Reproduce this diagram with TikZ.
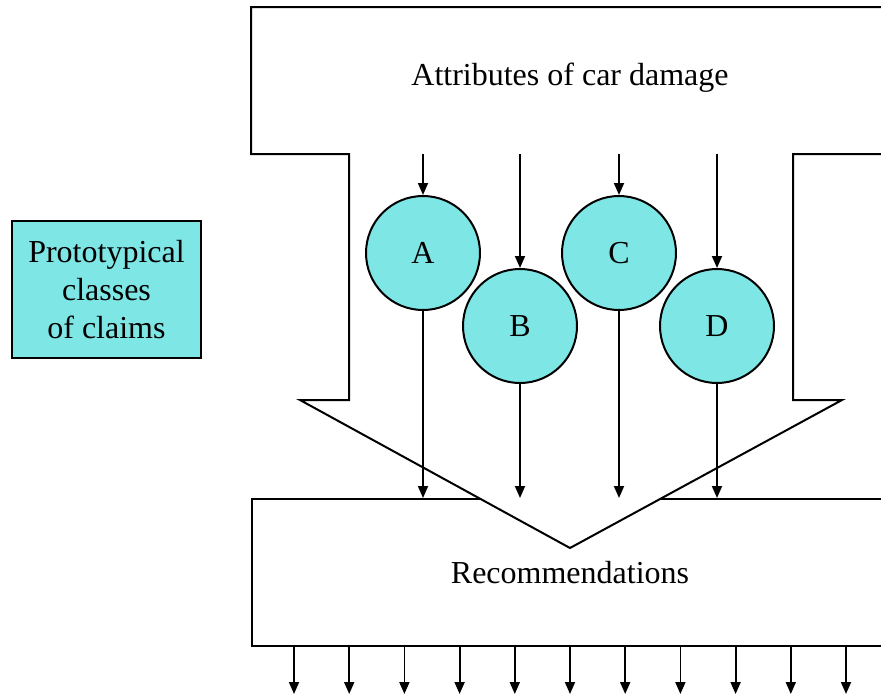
\documentclass[tikz,border=0pt]{standalone}
\usepackage{fontspec}
\setmainfont{Liberation Serif}
\usetikzlibrary{arrows.meta}
\definecolor{classcyan}{RGB}{127,230,230}
\begin{document}
\begin{tikzpicture}[x=1pt,y=-1pt,
  outline/.style={line width=2pt,line join=miter},
  arr/.style={line width=1.8pt,-{Triangle[length=12pt,width=10pt]}},
  classnode/.style={circle,draw,outline,fill=classcyan,minimum size=114pt,inner sep=0pt,
    font=\fontsize{32}{38}\selectfont},
  lbl/.style={font=\fontsize{32}{38}\selectfont}]
\useasboundingbox (0,0) rectangle (881,697);

% output box
\node[draw,outline,fill=white,anchor=north west,minimum width=660pt,minimum height=147pt,
  inner sep=0pt] (rec) at (251,498) {};
\node[lbl] (rectext) at (570,573) {Recommendations};

% input funnel
\draw[outline,fill=white] (251,7) -- (910,7) -- (910,154) -- (793,154) -- (793,400)
  -- (842,400) -- (570,548) -- (300,400) -- (349,400) -- (349,154) -- (251,154) -- cycle;
\node[lbl] (attr) at (570,78) {Attributes of car damage};

% prototype classes
\node[classnode] (A) at (423,253) {A};
\node[classnode] (B) at (520,326) {B};
\node[classnode] (C) at (619,253) {C};
\node[classnode] (D) at (717,326) {D};

\foreach \n/\x in {A/423,B/520,C/619,D/717}{
  \coordinate (\n-in) at (\x,154);
  \draw[arr] (\n-in) -- (\n);
  \draw[arr] (\n) -- (\n |- rec.north);
}

% outputs
\foreach \i in {0,...,10}{
  \coordinate (out\i) at (294+55.2*\i,694);
  \draw[arr] (out\i |- rec.south) -- (out\i);
}

% legend box
\node[draw,outline,fill=classcyan,minimum width=189pt,minimum height=137pt,align=center,
  inner sep=0pt,font=\fontsize{32}{38}\selectfont] (proto) at (106.5,289.5)
  {Prototypical\\classes\\of claims};
\end{tikzpicture}
\end{document}
